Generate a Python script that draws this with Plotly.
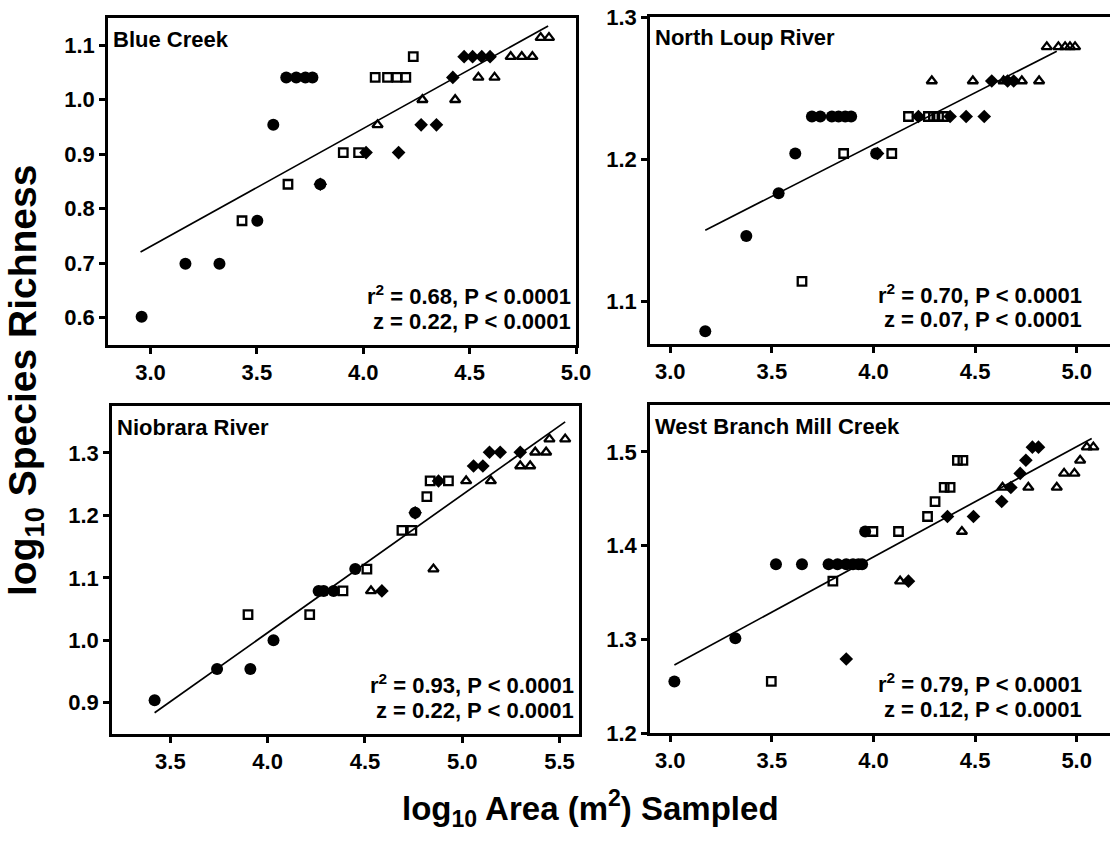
import plotly.graph_objects as go

# ---------------- data (log10 area, log10 richness) ----------------
sites = ["Blue Creek", "North Loup River", "Niobrara River", "West Branch Mill Creek"]

bc_circle_x = [2.958, 3.164, 3.324, 3.502, 3.577, 3.638, 3.685, 3.728, 3.761, 3.798]
bc_circle_y = [0.602, 0.699, 0.699, 0.778, 0.954, 1.041, 1.041, 1.041, 1.041, 0.845]
bc_square_x = [3.430, 3.646, 3.906, 3.978, 4.056, 4.114, 4.158, 4.200, 4.235]
bc_square_y = [0.778, 0.845, 0.903, 0.903, 1.041, 1.041, 1.041, 1.041, 1.079]
bc_diamond_x = [3.798, 4.013, 4.166, 4.272, 4.344, 4.421, 4.474, 4.514, 4.557, 4.596]
bc_diamond_y = [0.845, 0.903, 0.903, 0.954, 0.954, 1.041, 1.079, 1.079, 1.079, 1.079]
bc_triangle_x = [4.067, 4.278, 4.432, 4.541, 4.617, 4.693, 4.745, 4.795, 4.834, 4.873]
bc_triangle_y = [0.954, 1.000, 1.000, 1.041, 1.041, 1.079, 1.079, 1.079, 1.114, 1.114]

nl_circle_x = [3.172, 3.374, 3.533, 3.615, 3.697, 3.738, 3.795, 3.828, 3.861, 3.890, 4.013]
nl_circle_y = [1.079, 1.146, 1.176, 1.204, 1.230, 1.230, 1.230, 1.230, 1.230, 1.230, 1.204]
nl_square_x = [3.648, 3.853, 4.090, 4.172, 4.270, 4.295, 4.320, 4.344]
nl_square_y = [1.114, 1.204, 1.204, 1.230, 1.230, 1.230, 1.230, 1.230]
nl_diamond_x = [4.020, 4.221, 4.377, 4.456, 4.545, 4.582, 4.660, 4.690]
nl_diamond_y = [1.204, 1.230, 1.230, 1.230, 1.230, 1.255, 1.255, 1.255]
nl_triangle_x = [4.287, 4.489, 4.640, 4.730, 4.815, 4.853, 4.910, 4.943, 4.967, 4.992]
nl_triangle_y = [1.255, 1.255, 1.255, 1.255, 1.255, 1.279, 1.279, 1.279, 1.279, 1.279]

nb_circle_x = [3.419, 3.740, 3.911, 4.030, 4.262, 4.288, 4.339, 4.450, 4.758]
nb_circle_y = [0.904, 0.954, 0.954, 1.000, 1.079, 1.079, 1.079, 1.114, 1.204]
nb_square_x = [3.899, 4.216, 4.387, 4.510, 4.690, 4.741, 4.818, 4.835, 4.929]
nb_square_y = [1.041, 1.041, 1.079, 1.114, 1.176, 1.176, 1.230, 1.255, 1.255]
nb_diamond_x = [4.587, 4.758, 4.878, 5.058, 5.106, 5.140, 5.195, 5.298]
nb_diamond_y = [1.079, 1.204, 1.255, 1.279, 1.279, 1.301, 1.301, 1.301]
nb_triangle_x = [4.531, 4.852, 5.020, 5.147, 5.298, 5.349, 5.375, 5.431, 5.448, 5.529]
nb_triangle_y = [1.079, 1.114, 1.255, 1.255, 1.279, 1.279, 1.301, 1.301, 1.322, 1.322]

wb_circle_x = [3.020, 3.320, 3.520, 3.648, 3.779, 3.823, 3.866, 3.899, 3.926, 3.944, 3.959]
wb_circle_y = [1.255, 1.301, 1.380, 1.380, 1.380, 1.380, 1.380, 1.380, 1.380, 1.380, 1.415]
wb_square_x = [3.497, 3.800, 3.997, 4.123, 4.266, 4.303, 4.348, 4.377, 4.413, 4.440]
wb_square_y = [1.255, 1.362, 1.415, 1.415, 1.431, 1.447, 1.462, 1.462, 1.491, 1.491]
wb_diamond_x = [3.866, 4.172, 4.364, 4.492, 4.631, 4.676, 4.722, 4.750, 4.782, 4.812]
wb_diamond_y = [1.279, 1.362, 1.431, 1.431, 1.447, 1.462, 1.477, 1.491, 1.505, 1.505]
wb_triangle_x = [4.131, 4.435, 4.635, 4.762, 4.902, 4.938, 4.989, 5.017, 5.050, 5.082]
wb_triangle_y = [1.362, 1.415, 1.462, 1.462, 1.462, 1.477, 1.477, 1.491, 1.505, 1.505]

# regression fits (slope, intercept, x extent)
fit_slope = [0.2165, 0.0728, 0.2207, 0.1177]
fit_intercept = [0.0812, 0.9191, 0.1294, 0.9171]
fit_xmin = [2.953, 3.172, 3.419, 3.020]
fit_xmax = [4.869, 4.902, 5.529, 5.074]

stats_r2 = ["0.68", "0.70", "0.93", "0.79"]
stats_z = ["0.22", "0.07", "0.22", "0.12"]

x_ranges = [[2.8, 5.0], [2.9, 5.164], [3.2, 5.6], [2.9, 5.164]]
y_ranges = [[0.55, 1.15], [1.07, 1.30], [0.85, 1.375], [1.20, 1.55]]
x_ticks = [[3.0, 3.5, 4.0, 4.5, 5.0], [3.0, 3.5, 4.0, 4.5, 5.0],
           [3.5, 4.0, 4.5, 5.0, 5.5], [3.0, 3.5, 4.0, 4.5, 5.0]]
y_ticks = [[0.6, 0.7, 0.8, 0.9, 1.0, 1.1], [1.1, 1.2, 1.3],
           [0.9, 1.0, 1.1, 1.2, 1.3], [1.2, 1.3, 1.4, 1.5]]

groups = [
    [(bc_circle_x, bc_circle_y), (bc_square_x, bc_square_y), (bc_diamond_x, bc_diamond_y), (bc_triangle_x, bc_triangle_y)],
    [(nl_circle_x, nl_circle_y), (nl_square_x, nl_square_y), (nl_diamond_x, nl_diamond_y), (nl_triangle_x, nl_triangle_y)],
    [(nb_circle_x, nb_circle_y), (nb_square_x, nb_square_y), (nb_diamond_x, nb_diamond_y), (nb_triangle_x, nb_triangle_y)],
    [(wb_circle_x, wb_circle_y), (wb_square_x, wb_square_y), (wb_diamond_x, wb_diamond_y), (wb_triangle_x, wb_triangle_y)],
]

# ---------------- layout geometry (pixels) ----------------
W, H = 1110, 845
# left, right, top, bottom of each frame; right-hand panels run off the page edge
boxes = [(108, 576, 18, 345), (650, 1110, 17, 344), (112, 579, 406, 734), (650, 1110, 405, 733)]
right_closed = [True, False, True, False]
stats_right = [573, 1084, 576, 1084]

symbols = [
    dict(symbol="circle", size=12, color="black", line=dict(width=0)),
    dict(symbol="square-open", size=8.5, color="black", line=dict(width=2.3)),
    dict(symbol="diamond", size=10.5, color="black", line=dict(width=0)),
    dict(symbol="triangle-up-open", size=9, color="black", line=dict(width=2.3)),
]

FONT = "Liberation Sans, Arial, sans-serif"
BOLD = dict(family=FONT, color="black", weight="bold")
fig = go.Figure()
annotations = []
layout = {}
for i in range(4):
    ax = "" if i == 0 else str(i + 1)
    xref, yref = "x" + ax, "y" + ax
    for (gx, gy), m in zip(groups[i], symbols):
        fig.add_trace(go.Scatter(x=gx, y=gy, mode="markers", marker=m, cliponaxis=False,
                                 xaxis=xref, yaxis=yref, showlegend=False, hoverinfo="x+y"))
    lx = [fit_xmin[i], fit_xmax[i]]
    ly = [fit_intercept[i] + fit_slope[i] * v for v in lx]
    fig.add_trace(go.Scatter(x=lx, y=ly, mode="lines", line=dict(color="black", width=1.7),
                             xaxis=xref, yaxis=yref, showlegend=False, hoverinfo="skip"))
    x0, x1, y0, y1 = boxes[i]
    common = dict(showline=True, linecolor="black", linewidth=2.5,
                  ticks="outside", ticklen=6, tickwidth=2.5, tickcolor="black",
                  showgrid=False, zeroline=False, automargin=False,
                  tickfont=dict(BOLD, size=22))
    layout["xaxis" + ax] = dict(common, mirror=True, domain=[x0 / W, x1 / W], range=x_ranges[i],
                                tickvals=x_ticks[i], ticktext=[f"{v:.1f}" for v in x_ticks[i]],
                                anchor=yref)
    layout["yaxis" + ax] = dict(common, mirror=right_closed[i], domain=[1 - y1 / H, 1 - y0 / H],
                                range=y_ranges[i],
                                tickvals=y_ticks[i], ticktext=[f"{v:.1f}" for v in y_ticks[i]],
                                anchor=xref)
    annotations.append(dict(text=sites[i], xref="paper", yref="paper",
                            x=(x0 + 3) / W, y=1 - (y0 + 21) / H, xanchor="left", yanchor="middle",
                            showarrow=False, font=dict(BOLD, size=22)))
    annotations.append(dict(text=f"r<sup>2</sup> = {stats_r2[i]}, P < 0.0001",
                            xref="paper", yref="paper", x=stats_right[i] / W, y=1 - (y1 - 50) / H,
                            xanchor="right", yanchor="middle", showarrow=False,
                            font=dict(BOLD, size=22)))
    annotations.append(dict(text=f"z = {stats_z[i]}, P < 0.0001",
                            xref="paper", yref="paper", x=stats_right[i] / W, y=1 - (y1 - 24) / H,
                            xanchor="right", yanchor="middle", showarrow=False,
                            font=dict(BOLD, size=22)))

annotations.append(dict(text="log<sub>10</sub> Species Richness", xref="paper", yref="paper",
                        x=25 / W, y=1 - 381 / H, textangle=-90, xanchor="center", yanchor="middle",
                        showarrow=False, font=dict(BOLD, size=39)))
annotations.append(dict(text="log<sub>10</sub> Area (m<sup>2</sup>) Sampled", xref="paper", yref="paper",
                        x=590 / W, y=1 - 808 / H, xanchor="center", yanchor="middle",
                        showarrow=False, font=dict(BOLD, size=33)))

fig.update_layout(width=W, height=H, margin=dict(l=0, r=0, t=0, b=0, autoexpand=False),
                  paper_bgcolor="white", plot_bgcolor="white",
                  annotations=annotations, **layout)
fig.write_html("out.html", config={"displayModeBar": False},
               post_script="document.body.style.margin='0px';")
